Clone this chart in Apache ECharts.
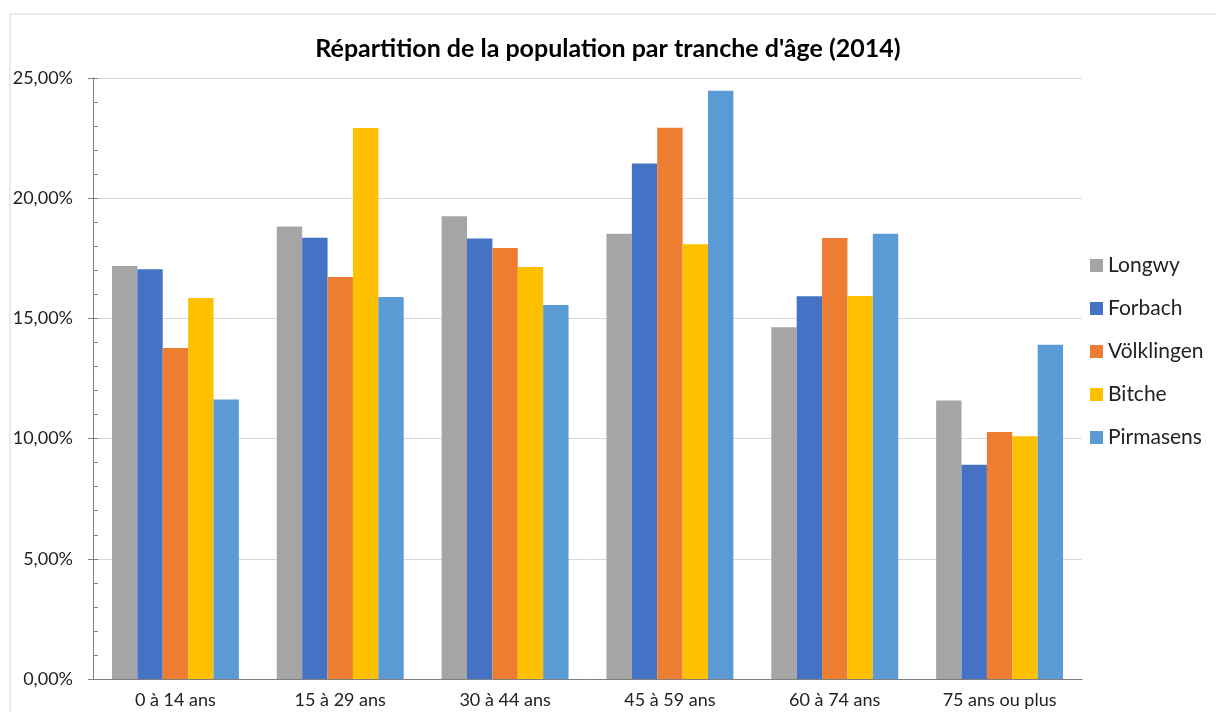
<!DOCTYPE html>
<html>
<head>
<meta charset="utf-8">
<script src="https://cdn.jsdelivr.net/npm/echarts@6/dist/echarts.min.js"></script>
<style>
  html, body { margin: 0; padding: 0; background: #fff; }
  #main { width: 1216px; height: 712px; }
</style>
</head>
<body>
<div id="main"></div>
<script>
// tranches d'âge
var categories = ['0 à 14 ans', '15 à 29 ans', '30 à 44 ans', '45 à 59 ans', '60 à 74 ans', '75 ans ou plus'];

// part de la population (%)
var longwy     = [17.18, 18.82, 19.25, 18.52, 14.63, 11.58];
var forbach    = [17.04, 18.35, 18.32, 21.44, 15.92, 8.91];
var volklingen = [13.77, 16.72, 17.93, 22.93, 18.34, 10.27];
var bitche     = [15.85, 22.92, 17.14, 18.08, 15.93, 10.10];
var pirmasens  = [11.63, 15.89, 15.56, 24.47, 18.52, 13.90];

var seriesNames = ['Longwy', 'Forbach', 'Völklingen', 'Bitche', 'Pirmasens'];
var seriesData = [longwy, forbach, volklingen, bitche, pirmasens];
var colors = ['#a5a5a5', '#4472c4', '#ed7d31', '#ffc000', '#5b9bd5'];

var font = 'Lato, "Open Sans", sans-serif';

var chart = echarts.init(document.getElementById('main'));

var series = [];
for (var i = 0; i < seriesNames.length; i++) {
  series.push({
    name: seriesNames[i],
    type: 'bar',
    data: seriesData[i],
    barGap: '0%',
    barCategoryGap: '23%',
    itemStyle: { color: colors[i] }
  });
}

var option = {
  animation: false,
  color: colors,
  textStyle: { fontFamily: font },
  title: {
    text: "Répartition de la population par tranche d'âge (2014)",
    left: 'center',
    top: 31,
    textStyle: { fontFamily: font, fontSize: 25, fontWeight: 'bold', color: '#000' }
  },
  legend: {
    orient: 'vertical',
    left: 1085,
    top: 250,
    icon: 'rect',
    itemWidth: 13,
    itemHeight: 13,
    itemGap: 22,
    textStyle: { fontFamily: font, fontSize: 21, color: '#222' },
    data: seriesNames
  },
  grid: { left: 93, right: 134, top: 78, bottom: 33 },
  xAxis: {
    type: 'category',
    data: categories,
    axisLine: { lineStyle: { color: '#7f7f7f', width: 1 } },
    axisTick: { show: false },
    axisLabel: { fontFamily: font, fontSize: 18, color: '#222', margin: 12 }
  },
  yAxis: [
    {
      type: 'value',
      min: 0,
      max: 25,
      interval: 5,
      axisLine: { show: true, lineStyle: { color: '#7f7f7f' } },
      axisTick: { show: true, inside: true, length: 5, lineStyle: { color: '#7f7f7f' } },
      minorTick: { show: true, splitNumber: 5, length: 5, lineStyle: { color: '#7f7f7f' } },
      splitLine: { lineStyle: { color: '#d9d9d9' } },
      axisLabel: {
        fontFamily: font, fontSize: 18, color: '#222', margin: 20,
        formatter: function (v) { return v.toFixed(2).replace('.', ',') + '%'; }
      }
    },
    {
      // petits traits extérieurs des graduations principales
      type: 'value',
      position: 'left',
      min: 0,
      max: 25,
      interval: 5,
      axisLine: { show: false },
      axisTick: { show: true, length: 5, lineStyle: { color: '#7f7f7f' } },
      axisLabel: { show: false },
      splitLine: { show: false }
    }
  ],
  graphic: [
    {
      type: 'rect',
      shape: { x: 10, y: 14, width: 1220, height: 720 },
      style: { fill: 'none', stroke: '#d9d9d9', lineWidth: 1 },
      silent: true,
      z: -1
    }
  ],
  series: series
};

chart.setOption(option);
</script>
</body>
</html>
